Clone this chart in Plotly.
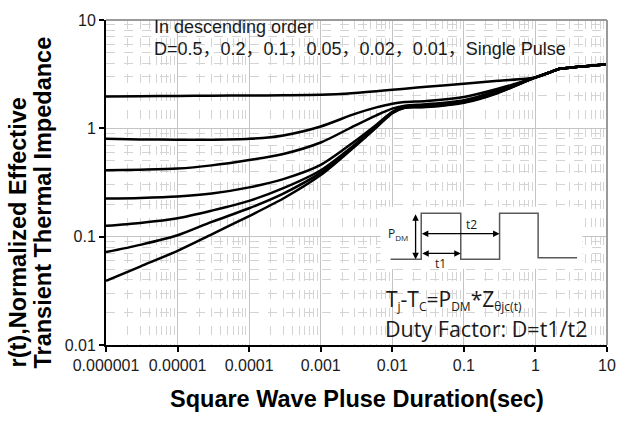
import plotly.graph_objects as go

# Pulse duration (s)
pulse_time = [1e-6, 3e-6, 1e-5, 3e-5, 1e-4, 3e-4, 1e-3, 3e-3, 6e-3, 1e-2,
              1.5e-2, 3e-2, 0.1, 0.3, 1, 1.5, 2.2, 3, 5, 10]

# Normalized transient thermal impedance r(t) per duty factor
r_d050 = [1.97, 1.98, 1.99, 2.00, 2.01, 2.02, 2.04, 2.12, 2.20, 2.27,
          2.32, 2.42, 2.58, 2.75, 2.95, 3.24, 3.55, 3.63, 3.75, 3.90]
r_d020 = [0.80, 0.79, 0.785, 0.785, 0.80, 0.86, 1.04, 1.36, 1.56, 1.69,
          1.75, 1.79, 1.95, 2.32, 2.95, 3.24, 3.55, 3.63, 3.75, 3.90]
r_d010 = [0.41, 0.415, 0.425, 0.455, 0.51, 0.58, 0.74, 1.06, 1.32, 1.52,
          1.62, 1.67, 1.82, 2.24, 2.95, 3.24, 3.55, 3.63, 3.75, 3.90]
r_d005 = [0.225, 0.228, 0.235, 0.25, 0.285, 0.34, 0.46, 0.76, 1.08, 1.42,
          1.59, 1.62, 1.78, 2.19, 2.95, 3.24, 3.55, 3.63, 3.75, 3.90]
r_d002 = [0.126, 0.134, 0.148, 0.174, 0.214, 0.28, 0.41, 0.71, 1.05, 1.40,
          1.57, 1.60, 1.76, 2.16, 2.95, 3.24, 3.55, 3.63, 3.75, 3.90]
r_d001 = [0.072, 0.084, 0.103, 0.137, 0.183, 0.25, 0.39, 0.69, 1.03, 1.39,
          1.56, 1.58, 1.74, 2.14, 2.95, 3.24, 3.55, 3.63, 3.75, 3.90]
r_single = [0.039, 0.053, 0.074, 0.105, 0.155, 0.225, 0.37, 0.68, 1.02, 1.38,
            1.55, 1.57, 1.72, 2.12, 2.95, 3.24, 3.55, 3.63, 3.75, 3.90]

series = [("D=0.5", r_d050), ("D=0.2", r_d020), ("D=0.1", r_d010),
          ("D=0.05", r_d005), ("D=0.02", r_d002), ("D=0.01", r_d001),
          ("Single Pulse", r_single)]

x_tickvals = [1e-6, 1e-5, 1e-4, 1e-3, 1e-2, 1e-1, 1, 10]
x_ticktext = ["0.000001", "0.00001", "0.0001", "0.001", "0.01", "0.1", "1", "10"]
y_tickvals = [0.01, 0.1, 1, 10]
y_ticktext = ["0.01", "0.1", "1", "10"]

W, H = 628, 430
ML, MR, MT, MB = 106, 15, 16, 85
PW, PH = W - ML - MR, H - MT - MB


def px(x):
    return (x - ML) / PW


def py(y):
    return (H - MB - y) / PH


fig = go.Figure()
for name, vals in series:
    fig.add_trace(go.Scatter(
        x=pulse_time, y=vals, name=name, mode="lines",
        line=dict(color="black", width=2.5, shape="spline", smoothing=0.8),
        showlegend=False, hoverinfo="skip"))

SANS = "Liberation Sans, Arial, Noto Sans CJK SC, sans-serif"
SEGOE = "Open Sans, Noto Sans, sans-serif"

axis_common = dict(
    type="log", showline=True, linecolor="black", linewidth=2,
    ticks="outside", ticklen=5, tickwidth=1.5, tickcolor="black",
    showgrid=True, gridcolor="#c4c4c4", gridwidth=1, zeroline=False,
    tickfont=dict(family=SANS, size=16, color="#1a1a1a"),
    minor=dict(dtick="D1", showgrid=True, gridcolor="#d4d4d4",
               griddash="dash", gridwidth=1, ticks=""),
)

fig.update_xaxes(range=[-6, 1], tickmode="array", tickvals=x_tickvals,
                 ticktext=x_ticktext, **axis_common)
fig.update_yaxes(range=[-2, 1], tickmode="array", tickvals=y_tickvals,
                 ticktext=y_ticktext, **axis_common)

shapes = []
# grey top / right frame edges
shapes.append(dict(type="line", xref="paper", yref="paper", x0=0, x1=1, y0=1, y1=1,
                   line=dict(color="#9a9a9a", width=2), layer="above"))
shapes.append(dict(type="line", xref="paper", yref="paper", x0=1, x1=1, y0=0, y1=1,
                   line=dict(color="#9a9a9a", width=2), layer="above"))
# white panel behind the pulse sketch
shapes.append(dict(type="rect", xref="paper", yref="paper",
                   x0=px(384), x1=px(588), y0=py(268), y1=py(205),
                   fillcolor="white", line=dict(width=0), layer="above"))
# pulse train
pts = [(394, 258.3), (425, 258.3), (425, 211.7), (465, 211.7), (465, 258.3),
       (504.3, 258.3), (504.3, 211.7), (543.3, 211.7), (543.3, 256.7), (582.7, 256.7)]
path = "M " + " L ".join(f"{px(a):.5f},{py(b):.5f}" for a, b in pts)
shapes.append(dict(type="path", xref="paper", yref="paper", path=path,
                   line=dict(color="#5a5a5a", width=1.5), layer="above"))
fig.update_layout(shapes=shapes)


def sub(s, size=12):
    return f"<sub><span style='font-size:{size}px'>{s}</span></sub>"


annotations = [
    dict(text="In descending order", x=px(153), y=py(23.5), xanchor="left",
         yanchor="middle", font=dict(family=SANS, size=18, color="#1a1a1a")),
    dict(text="D=0.5，0.2，0.1，0.05，0.02，0.01，Single Pulse", x=px(153), y=py(45),
         xanchor="left", yanchor="middle",
         font=dict(family=SANS, size=18, color="#1a1a1a")),
    dict(text="T" + sub("j") + "-T" + sub("C") + "=P" + sub("DM") + "*Z" + sub("θjc(t)"),
         x=px(387), y=py(299), xanchor="left", yanchor="middle",
         font=dict(family=SEGOE, size=21, color="#1a1a1a")),
    dict(text="Duty Factor: D=t1/t2", x=px(386), y=py(328), xanchor="left",
         yanchor="middle", font=dict(family=SEGOE, size=21.5, color="#1a1a1a")),
    dict(text="P" + sub("DM", 8), x=px(402), y=py(233), xanchor="center",
         yanchor="middle", font=dict(family=SEGOE, size=12, color="#1a1a1a")),
    dict(text="t2", x=px(476), y=py(223), xanchor="center", yanchor="middle",
         font=dict(family=SEGOE, size=12, color="#1a1a1a")),
    dict(text="t1", x=px(444), y=py(263), xanchor="center", yanchor="middle",
         font=dict(family=SEGOE, size=12, color="#1a1a1a")),
    # axis titles
    dict(text="<b>Square Wave Pluse Duration(sec)</b>", x=px(360), y=py(400),
         xanchor="center", yanchor="middle",
         font=dict(family=SANS, size=23.5, color="black")),
    dict(text="<b>r(t),Normalized Effective</b>", x=px(17), y=py(231),
         xanchor="center", yanchor="middle", textangle=-90,
         font=dict(family=SANS, size=23.5, color="black")),
    dict(text="<b>Transient Thermal Impedance</b>", x=px(42), y=py(201),
         xanchor="center", yanchor="middle", textangle=-90,
         font=dict(family=SANS, size=23.5, color="black")),
]
for a in annotations:
    a.update(xref="paper", yref="paper", showarrow=False)

# dimension arrows of the pulse sketch
arrows = [
    ((419.3, 211.7), (419.3, 258.3)),
    ((425, 232.3), (504.3, 232.3)),
    ((425, 252.3), (465, 252.3)),
]
for (x0, y0), (x1, y1) in arrows:
    annotations.append(dict(
        xref="paper", yref="paper", x=px(x1), y=py(y1),
        axref="pixel", ayref="pixel", ax=x0 - x1, ay=y0 - y1,
        text="", showarrow=True, arrowhead=2, startarrowhead=2,
        arrowside="end+start", arrowsize=1, arrowwidth=1.3, arrowcolor="black"))

fig.update_layout(
    annotations=annotations,
    width=W, height=H, autosize=False,
    margin=dict(l=ML, r=MR, t=MT, b=MB, pad=0),
    paper_bgcolor="white", plot_bgcolor="white",
    showlegend=False,
)

fig.write_html("out.html", include_plotlyjs=True, full_html=True,
               config={"displayModeBar": False})
